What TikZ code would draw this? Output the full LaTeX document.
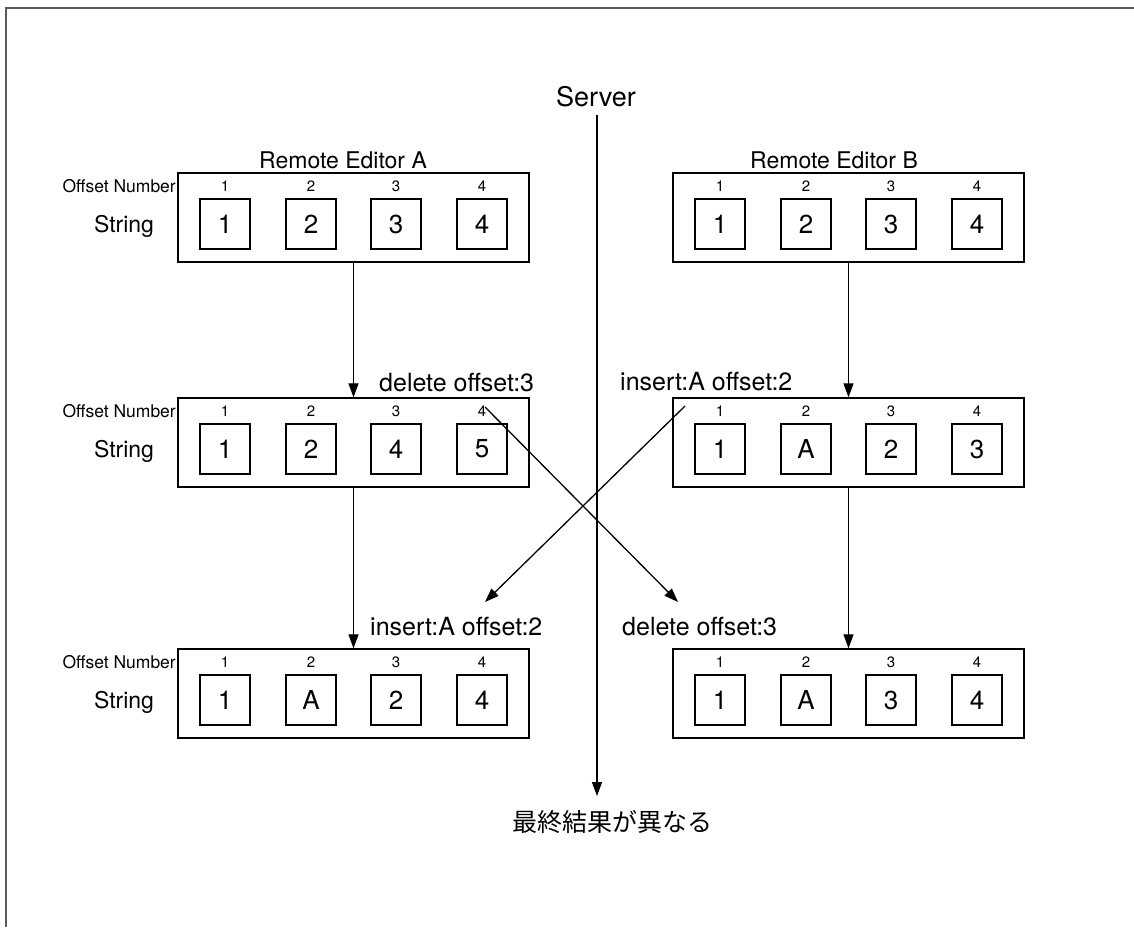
\documentclass[tikz,border=0pt]{standalone}
\usepackage{fontspec}
\setmainfont{TeX Gyre Heros}
\newfontfamily\jpfont{Noto Sans CJK JP}
\usetikzlibrary{arrows.meta}

\tikzset{
  editor/.style={draw, line width=1.4pt, minimum width=351pt, minimum height=89pt, inner sep=0pt},
  cell/.style={draw, line width=1.4pt, minimum size=50pt, inner sep=0pt, font=\fontsize{26}{26}\selectfont},
  offnum/.style={inner sep=0pt, font=\fontsize{15}{15}\selectfont},
  rowlbl/.style={inner sep=0pt, font=\fontsize{23}{23}\selectfont},
  oplbl/.style={inner sep=0pt, anchor=base west, font=\fontsize{25}{25}\selectfont},
  flow/.style={line width=1.3pt, -{Triangle[length=14pt,width=10pt]}},
}

\begin{document}
\begin{tikzpicture}[x=1pt,y=-1pt]
    \useasboundingbox (0,0) rectangle (1134,927);
    \draw[line width=1.5pt, gray!70!black] (6,927) -- (6,8) -- (1134,8);

    % editors
    \foreach \name/\lx/\ty/\a/\b/\c/\d in {A1/178/173/1/2/3/4, A2/178/398/1/2/4/5,
      A3/178/649/1/A/2/4, B1/673/173/1/2/3/4, B2/673/398/1/A/2/3, B3/673/649/1/A/3/4}
    {
      \node[editor] (\name) at (\lx+175.5,\ty+44.5) {};
      \node[cell] (\name c1) at (\lx+47,\ty+51) {\a};
      \node[cell] (\name c2) at (\lx+133,\ty+51) {\b};
      \node[cell] (\name c3) at (\lx+218,\ty+51) {\c};
      \node[cell] (\name c4) at (\lx+304,\ty+51) {\d};
      \foreach \k/\dx in {1/47,2/133,3/218,4/304}
        \node[offnum] (\name o\k) at (\lx+\dx,\ty+13) {\k};
    }
    \foreach \r/\ty in {1/173,2/398,3/649}
    {
      \node[inner sep=0pt, anchor=east, font=\fontsize{17.5}{17.5}\selectfont] (offlbl\r) at (176,\ty+13) {Offset Number};
      \node[rowlbl] (strlbl\r) at (124,\ty+53) {String};
    }
    \node[rowlbl] (edA) at (343,160) {Remote Editor A};
    \node[rowlbl] (edB) at (834,160) {Remote Editor B};

    % server
    \node[rowlbl, font=\fontsize{27}{27}\selectfont] (server) at (596,97) {Server};
    \node[inner sep=0pt, font=\jpfont\fontsize{25}{25}\selectfont] (result) at (612,822) {最終結果が異なる};
    \coordinate (srvtop) at (597,115);
    \coordinate (srvend) at (597,796);
    \draw[flow] (srvtop) -- (srvend);

    % operations
    \node[oplbl] (opA2) at (379,391) {delete offset:3};
    \node[oplbl] (opB2) at (620,390) {insert:A offset:2};
    \node[oplbl] (opA3) at (370,635) {insert:A offset:2};
    \node[oplbl] (opB3) at (622,635) {delete offset:3};

    \draw[flow] (A1) -- (A2);
    \draw[flow] (B1) -- (B2);
    \draw[flow] (A2) -- (A3);
    \draw[flow] (B2) -- (B3);

    \coordinate (delfrom) at (485,407);
    \coordinate (delto) at (678,602);
    \coordinate (insfrom) at (685,406);
    \coordinate (insto) at (485,602);
    \draw[flow] (delfrom) -- (delto);
    \draw[flow] (insfrom) -- (insto);
\end{tikzpicture}
\end{document}
